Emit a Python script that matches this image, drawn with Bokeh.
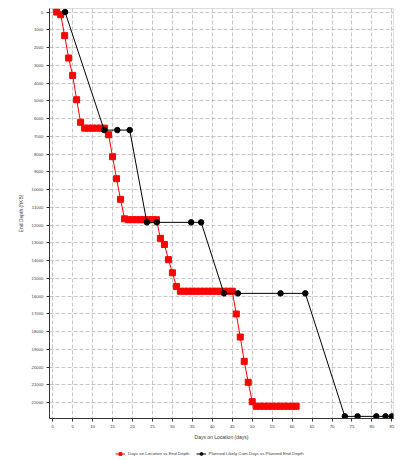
from bokeh.plotting import figure
from bokeh.models import Range1d, FixedTicker, Legend, LegendItem, ColumnDataSource
from bokeh.layouts import column
from bokeh.embed import file_html
from bokeh.resources import INLINE

# Actual: Days on Location vs End Depth
act_days = [1, 2, 3, 4, 5, 6, 7, 8, 9, 10, 11, 12, 13, 14, 15, 16, 17, 18, 19, 20,
            21, 22, 23, 24, 25, 26, 27, 28, 29, 30, 31, 32, 33, 34, 35, 36, 37, 38,
            39, 40, 41, 42, 43, 44, 45, 46, 47, 48, 49, 50, 51, 52, 53, 54, 55, 56,
            57, 58, 59, 60, 61]
act_depth = [0, 150, 1330, 2590, 3570, 4940, 6210, 6540, 6540, 6540, 6540, 6540, 6540,
             6910, 8150, 9390, 10550, 11650, 11700, 11700, 11700, 11700, 11700, 11700,
             11700, 11700, 12750, 13100, 13950, 14690, 15460, 15730, 15730, 15730,
             15730, 15730, 15730, 15730, 15730, 15730, 15730, 15730, 15730, 15730,
             15730, 17010, 18310, 19680, 20860, 21950, 22210, 22210, 22210, 22210,
             22210, 22210, 22210, 22210, 22210, 22210, 22210]

# Planned Likely Cum Days vs Planned End Depth
plan_days = [3.1, 12.9, 16.2, 19.3, 23.6, 26.1, 34.7, 37.2, 42.9, 46.4, 57.1, 63.3,
             73.2, 76.4, 81.1, 83.4, 85.0]
plan_depth = [0, 6650, 6650, 6650, 11850, 11850, 11850, 11850, 15850, 15850, 15850,
              15850, 22780, 22780, 22780, 22780, 22780]

series_labels = ["Days on Location vs End Depth",
                 "Planned Likely Cum Days vs Planned End Depth"]

x_ticks = list(range(0, 90, 5))
y_ticks = list(range(0, 23000, 1000))

FONT = "Liberation Sans"
TXT = "#3a3a3a"

p = figure(output_backend="svg", toolbar_location=None,
           frame_width=344, frame_height=410,
           x_range=Range1d(-0.8, 85.4), y_range=Range1d(22900, -200),
           min_border_left=49, min_border_right=2, min_border_top=8, min_border_bottom=28)

p.outline_line_color = "#dddddd"
p.background_fill_color = "white"

for ax in (p.xaxis[0], p.yaxis[0]):
    ax.major_label_text_font = FONT
    ax.major_label_text_font_size = "4.3px"
    ax.major_label_text_color = TXT
    ax.axis_label_text_font = FONT
    ax.axis_label_text_font_size = "5px"
    ax.axis_label_text_font_style = "normal"
    ax.axis_label_text_color = TXT
    ax.minor_tick_line_color = None
    ax.major_tick_in = 0
    ax.major_tick_out = 3
    ax.axis_line_color = "#333333"
    ax.major_tick_line_color = "#333333"
    ax.major_label_standoff = 3

p.xaxis.ticker = FixedTicker(ticks=x_ticks)
p.yaxis.ticker = FixedTicker(ticks=y_ticks)
p.xaxis.axis_label = "Days on Location (days)"
p.yaxis.axis_label = "End Depth (ftKB)"
p.yaxis.axis_label_standoff = 5
p.xaxis.axis_label_standoff = 3

p.grid.grid_line_color = "#999999"
p.grid.grid_line_alpha = 0.55
p.grid.grid_line_dash = "4 2"

src_a = ColumnDataSource(dict(x=act_days, y=act_depth))
src_p = ColumnDataSource(dict(x=plan_days, y=plan_depth))

p.line("x", "y", source=src_a, line_color="red", line_width=1)
p.scatter("x", "y", source=src_a, marker="square", size=6,
          fill_color="red", line_color="red")
p.line("x", "y", source=src_p, line_color="black", line_width=1)
p.scatter("x", "y", source=src_p, marker="circle", size=5.5,
          fill_color="black", line_color="black")

# legend strip below the chart (swatch-only renderers with a NaN point)
lf = figure(width=395, height=12, output_backend="svg", toolbar_location=None,
            x_range=Range1d(0, 1), y_range=Range1d(0, 1), min_border=0)
lf.axis.visible = False
lf.grid.visible = False
lf.outline_line_color = None
swatch = ColumnDataSource(dict(x=[float("nan")], y=[float("nan")]))
la = lf.line("x", "y", source=swatch, line_color="red", line_width=1)
ma = lf.scatter("x", "y", source=swatch, marker="square", size=6,
                fill_color="red", line_color="red")
lp = lf.line("x", "y", source=swatch, line_color="black", line_width=1)
mp = lf.scatter("x", "y", source=swatch, marker="circle", size=5.5,
                fill_color="black", line_color="black")

legend = Legend(items=[
    LegendItem(label=series_labels[0], renderers=[la, ma]),
    LegendItem(label=series_labels[1], renderers=[lp, mp]),
], orientation="horizontal", location=(66, 1))
legend.label_text_font = FONT
legend.label_text_font_size = "4.4px"
legend.label_text_color = TXT
legend.glyph_width = 10
legend.glyph_height = 7
legend.label_standoff = 3
legend.spacing = 6
legend.padding = 1
legend.margin = 0
legend.border_line_color = None
legend.background_fill_alpha = 0
legend.label_height = 7
lf.add_layout(legend, "center")

layout = column(p, lf, spacing=0)
open("out.html", "w").write(file_html(layout, INLINE))
